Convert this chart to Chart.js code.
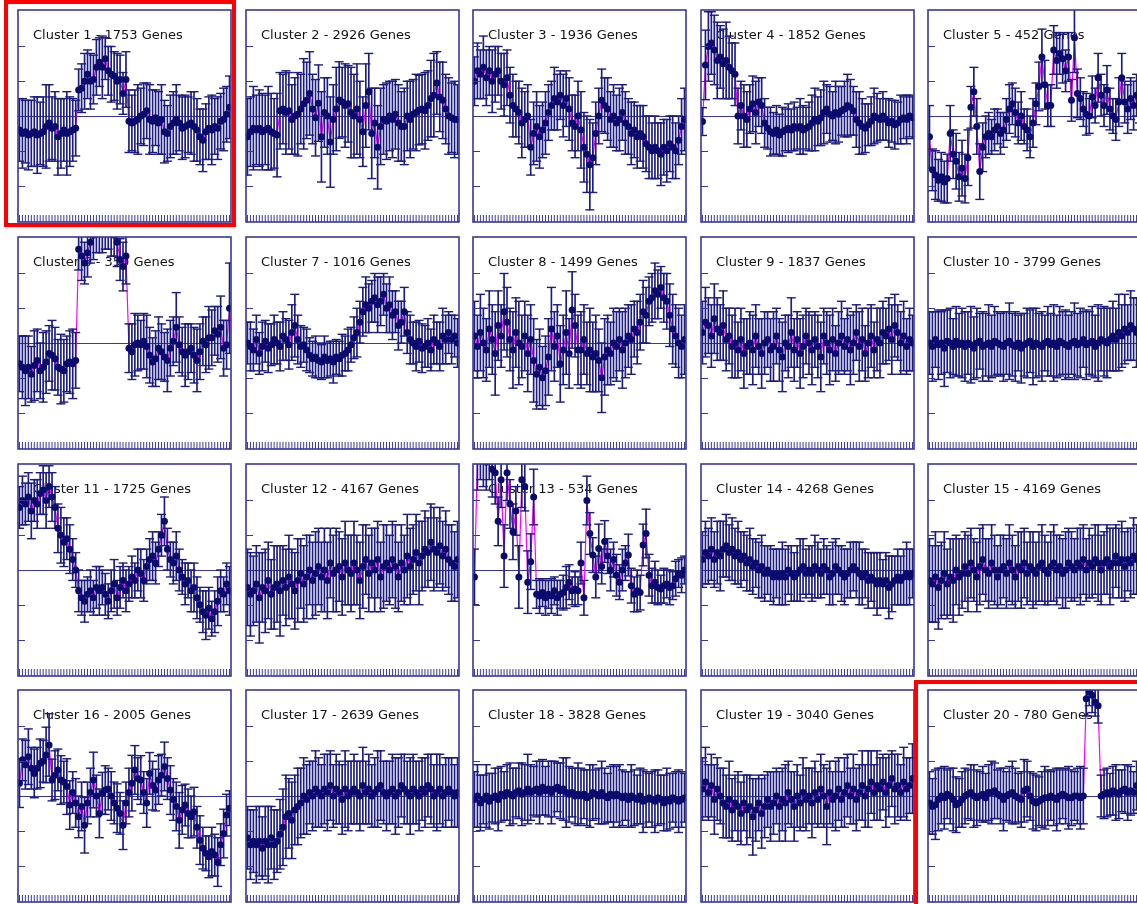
<!DOCTYPE html>
<html>
<head>
<meta charset="utf-8">
<script src="https://cdn.jsdelivr.net/npm/chart.js@4.4.1/dist/chart.umd.min.js"></script>
<style>
html,body{margin:0;padding:0;background:#fff;}
body{width:1137px;height:904px;overflow:hidden;position:relative;}
canvas.panel{position:absolute;}
.hl{position:absolute;border:4px solid #ff0000;box-sizing:border-box;z-index:5;pointer-events:none;}
</style>
</head>
<body>
<div class="hl" style="left:4px;top:0px;width:232px;height:227px;"></div>
<div class="hl" style="left:914px;top:680px;width:240px;height:240px;"></div>
<script>
// ---------- DATA ----------
const timePoints = [1,2,3,4,5,6,7,8,9,10,11,12,13,14,15,16,17,18,19,20,21,22,23,24,
  25,26,27,28,29,30,31,32,33,34,35,36,37,38,39,40,41,42,43,44,45,46,47,48,
  49,50,51,52,53,54,55,56,57,58,59,60,61,62,63,64,65,66,67,68,69,70,71,72];
const yTickValues = [-2,-1,1,2];
const titles = ["Cluster 1 - 1753 Genes","Cluster 2 - 2926 Genes","Cluster 3 - 1936 Genes","Cluster 4 - 1852 Genes","Cluster 5 - 452 Genes",
  "Cluster 6 - 350 Genes","Cluster 7 - 1016 Genes","Cluster 8 - 1499 Genes","Cluster 9 - 1837 Genes","Cluster 10 - 3799 Genes",
  "Cluster 11 - 1725 Genes","Cluster 12 - 4167 Genes","Cluster 13 - 534 Genes","Cluster 14 - 4268 Genes","Cluster 15 - 4169 Genes",
  "Cluster 16 - 2005 Genes","Cluster 17 - 2639 Genes","Cluster 18 - 3828 Genes","Cluster 19 - 3040 Genes","Cluster 20 - 780 Genes"];

const c1Mean = [-0.4,-0.5,-0.45,-0.55,-0.5,-0.45,-0.55,-0.5,-0.45,-0.3,-0.2,-0.35,
  -0.3,-0.6,-0.5,-0.4,-0.5,-0.45,-0.4,-0.35,0.75,0.8,1.0,1.2,
  1.0,1.05,1.4,1.55,1.4,1.65,1.3,1.2,1.15,1.0,1.05,0.65,
  1.05,-0.15,-0.2,-0.15,-0.1,0.0,0.05,0.15,-0.1,-0.15,-0.05,-0.2,
  -0.1,-0.45,-0.5,-0.3,-0.2,-0.1,-0.2,-0.35,-0.3,-0.25,-0.2,-0.3,
  -0.4,-0.6,-0.7,-0.45,-0.35,-0.4,-0.3,-0.35,-0.15,-0.1,0.05,0.25];
const c1Err = [0.9,1.0,0.9,1.0,0.95,1.0,1.1,0.9,1.0,1.2,1.1,0.9,
  1.0,1.1,1.0,0.9,1.2,1.0,0.9,0.8,0.6,0.7,0.8,0.7,
  0.8,0.7,0.8,0.7,0.9,0.6,0.7,0.8,0.7,0.8,0.7,0.6,
  0.8,0.9,0.8,0.9,1.0,0.8,0.9,0.8,1.0,0.9,0.8,0.9,
  1.0,0.9,0.8,0.9,0.9,1.0,0.8,0.9,0.9,0.8,0.9,1.0,
  0.9,0.8,0.9,0.8,0.9,1.0,0.8,0.9,0.8,0.9,0.8,0.9];

const c2Mean = [-0.6,-0.45,-0.35,-0.4,-0.35,-0.45,-0.4,-0.35,-0.45,-0.5,-0.55,0.15,
  0.2,0.1,0.15,-0.1,0.0,0.05,0.2,0.35,0.45,0.65,0.2,-0.05,
  0.37,-0.6,0.1,0.0,-0.75,-0.1,0.2,0.46,0.4,0.3,0.35,0.1,
  0.0,0.2,-0.1,-0.45,0.3,0.7,-0.5,-0.2,-0.9,-0.3,-0.1,-0.15,
  0.0,-0.1,0.05,-0.2,-0.3,-0.3,0.0,-0.1,0.05,0.1,0.17,0.2,
  0.15,0.3,0.5,0.6,0.95,0.55,0.45,0.2,0.0,-0.05,-0.1,-0.1];
const c2Err = [1.1,1.0,1.2,1.0,1.1,1.1,1.0,1.2,1.1,1.0,1.2,1.1,
  1.0,1.2,1.1,1.0,1.1,1.2,1.0,1.3,1.1,1.2,1.0,1.1,
  1.1,1.3,1.0,1.1,1.3,1.0,1.2,1.1,1.0,1.2,1.1,1.3,
  1.2,1.3,1.1,1.0,1.2,1.1,1.3,1.0,1.2,1.1,1.0,1.1,
  1.0,1.1,1.0,1.1,1.0,1.1,1.0,1.1,1.0,1.1,1.0,1.0,
  1.1,1.0,1.1,1.2,0.9,1.0,1.1,1.0,1.1,1.0,1.1,1.0];

const c3Mean = [1.0,1.3,1.2,1.4,1.1,1.3,1.0,1.2,1.3,1.0,0.9,1.1,
  0.6,0.3,0.2,0.1,-0.2,-0.1,0.0,-0.9,-0.5,-0.3,-0.6,-0.4,
  -0.2,0.1,0.3,0.5,0.4,0.6,0.3,0.5,0.2,-0.2,-0.3,0.0,
  -0.4,-0.9,-1.1,-1.4,-1.2,-0.5,0.0,0.45,0.3,0.2,-0.1,0.0,
  -0.2,-0.1,0.1,-0.2,-0.3,-0.5,-0.4,-0.6,-0.5,-0.6,-0.8,-0.9,
  -1.0,-0.9,-1.0,-1.1,-0.9,-1.0,-0.8,-0.9,-1.0,-0.7,-0.3,-0.1];
const c3Err = [0.7,0.8,0.7,0.9,0.8,0.7,0.9,0.8,0.7,0.8,0.9,0.8,
  0.8,0.9,0.8,0.9,1.0,0.8,0.9,0.8,0.9,1.0,0.9,0.8,
  0.9,0.8,0.7,0.9,0.8,0.7,0.9,0.8,0.9,0.8,0.9,1.0,
  1.1,1.0,1.1,1.3,1.0,0.9,0.8,0.9,0.8,0.9,0.8,0.9,
  0.8,0.9,0.8,0.9,0.8,0.9,0.8,0.9,0.8,0.9,0.8,0.9,
  0.8,0.9,0.8,0.9,0.8,0.9,0.8,0.9,0.8,0.7,0.8,0.9];

const c4Mean = [-0.16,1.47,2.0,2.1,1.9,1.6,1.7,1.5,1.6,1.4,1.3,1.2,
  0.0,0.3,0.0,-0.1,0.2,0.35,0.1,0.4,0.3,-0.2,-0.35,-0.45,
  -0.5,-0.4,-0.55,-0.45,-0.4,-0.35,-0.4,-0.3,-0.35,-0.3,-0.4,-0.35,
  -0.3,-0.2,-0.1,-0.15,-0.05,0.1,0.2,0.05,0.0,0.1,0.05,0.15,
  0.2,0.3,0.25,0.15,-0.1,-0.2,-0.3,-0.35,-0.25,-0.15,0.0,-0.05,
  -0.1,0.0,-0.1,-0.2,-0.15,-0.25,-0.2,-0.1,-0.05,-0.1,0.0,-0.05];
const c4Err = [0.4,1.0,1.0,0.9,1.0,1.1,0.9,1.0,1.1,0.9,0.8,0.9,
  0.8,0.7,0.9,0.8,0.7,0.8,0.9,0.7,0.8,0.7,0.6,0.7,
  0.6,0.7,0.6,0.7,0.6,0.7,0.6,0.7,0.6,0.8,0.7,0.6,
  0.7,0.8,0.9,0.7,0.8,0.9,0.7,0.8,0.7,0.9,0.8,0.7,
  0.8,0.9,0.8,0.7,0.8,0.9,0.8,0.7,0.6,0.7,0.8,0.7,
  0.6,0.7,0.6,0.7,0.6,0.7,0.6,0.7,0.6,0.7,0.6,0.6];

const c5Mean = [-0.6,-1.55,-1.7,-1.85,-1.75,-1.9,-1.8,-0.5,-1.1,-1.3,-1.75,-1.5,
  -1.8,-1.2,0.25,0.7,-0.3,-1.6,-0.9,-0.6,-0.5,-0.6,-0.4,-0.3,
  -0.5,-0.4,-0.1,0.2,0.35,0.1,-0.2,0.0,-0.3,-0.4,-0.6,-0.2,
  0.35,0.85,1.7,0.9,0.3,0.3,1.9,1.6,1.8,1.65,1.3,1.7,
  0.45,2.25,0.65,0.5,0.2,0.05,0.0,0.55,0.3,1.1,0.6,0.3,
  0.75,0.2,0.0,-0.1,0.4,1.1,0.4,0.2,0.5,0.3,0.6,0.4];
const c5Err = [0.9,0.6,0.7,0.6,0.7,0.6,0.7,0.8,0.7,0.8,0.7,0.8,
  0.7,0.8,0.6,0.7,0.8,0.8,0.7,0.6,0.6,0.5,0.6,0.5,
  0.6,0.5,0.6,0.7,0.6,0.7,0.6,0.7,0.5,0.6,0.6,0.7,
  0.6,0.7,0.8,0.7,0.6,0.6,0.7,0.8,0.6,0.7,0.6,0.7,
  0.6,1.0,0.7,0.6,0.5,0.6,0.5,0.6,0.5,0.7,0.6,0.6,
  0.7,0.6,0.5,0.6,0.7,0.7,0.6,0.7,0.6,0.7,0.6,0.6];

const c6Mean = [-0.6,-0.7,-0.8,-0.7,-0.9,-0.65,-0.5,-0.8,-0.7,-0.55,-0.3,-0.35,
  -0.45,-0.7,-0.75,-0.8,-0.6,-0.55,-0.6,-0.5,2.7,2.5,2.3,2.6,
  2.9,3.1,3.2,3.3,3.2,3.4,3.3,3.2,3.1,2.9,2.4,2.2,
  2.5,-0.15,-0.25,-0.05,0.0,-0.05,0.05,-0.1,-0.35,-0.55,-0.45,-0.15,
  -0.25,-0.4,-0.5,-0.15,0.05,0.45,-0.05,-0.25,-0.35,-0.25,-0.15,-0.35,
  -0.5,-0.25,0.05,-0.05,0.15,0.15,0.35,0.25,0.45,-0.15,-0.05,1.0];
const c6Err = [0.8,0.9,1.0,0.9,0.8,1.0,0.9,0.8,1.0,0.9,0.8,1.0,
  0.9,0.8,1.0,0.9,0.8,0.9,1.0,0.8,0.6,0.7,0.6,0.7,
  0.6,0.7,0.6,0.7,0.6,0.7,0.6,0.7,0.6,0.7,0.6,0.7,
  0.8,0.7,0.8,0.9,0.8,0.7,0.8,0.9,0.8,0.7,0.8,0.9,
  0.8,0.7,0.9,0.8,0.7,1.0,0.8,0.7,0.9,0.8,0.7,0.8,
  0.9,0.8,0.7,0.8,0.9,0.8,0.7,0.8,0.9,0.8,0.7,1.3];

const c7Mean = [0.0,-0.1,-0.2,0.1,-0.3,-0.1,0.05,-0.15,-0.05,0.1,0.0,-0.1,
  0.2,0.1,-0.05,0.3,0.5,0.1,-0.1,-0.05,-0.2,-0.35,-0.45,-0.4,
  -0.5,-0.55,-0.4,-0.5,-0.45,-0.55,-0.4,-0.45,-0.35,-0.3,-0.2,-0.05,
  0.15,0.3,0.6,0.9,1.1,1.0,1.2,1.3,1.1,1.2,1.4,1.0,
  1.1,0.8,0.9,0.5,0.6,0.9,0.3,0.1,0.0,-0.1,0.05,-0.15,
  -0.1,0.0,-0.2,0.1,0.0,-0.1,0.2,0.1,0.3,0.1,0.2,0.0];
const c7Err = [0.6,0.7,0.6,0.7,0.6,0.7,0.6,0.7,0.6,0.7,0.6,0.7,
  0.7,0.6,0.7,0.8,0.9,0.7,0.6,0.5,0.6,0.5,0.5,0.6,
  0.5,0.5,0.6,0.5,0.5,0.6,0.5,0.5,0.6,0.5,0.6,0.5,
  0.6,0.7,0.6,0.7,0.8,0.7,0.6,0.7,0.8,0.7,0.6,0.7,
  0.8,0.7,0.6,0.7,0.6,0.7,0.6,0.7,0.6,0.7,0.6,0.7,
  0.6,0.7,0.6,0.7,0.6,0.7,0.8,0.7,0.6,0.7,0.6,0.7];

const c8Mean = [0.2,-0.1,0.3,0.0,-0.2,0.4,0.1,-0.3,0.5,0.2,0.9,0.6,
  0.1,-0.2,0.3,0.0,-0.1,0.2,-0.3,0.1,-0.5,-0.9,-0.7,-1.0,
  -0.8,-0.4,0.4,-0.1,0.2,-0.6,-0.2,0.3,-0.3,0.95,0.5,-0.2,
  -0.2,0.1,-0.3,-0.2,-0.4,-0.3,-0.5,-1.0,-0.4,-0.2,-0.3,0.0,
  -0.1,0.1,-0.2,0.0,0.2,0.1,0.4,0.3,0.6,0.9,0.8,1.2,
  1.3,1.5,1.4,1.6,1.3,1.2,0.8,0.4,0.2,0.0,-0.1,0.1];
const c8Err = [1.0,0.9,1.1,1.0,0.9,1.1,1.0,1.2,1.0,0.9,1.1,1.0,
  0.9,1.1,1.0,1.2,0.9,1.0,1.1,1.0,1.2,1.0,1.1,0.9,
  1.0,1.1,1.2,1.0,0.9,1.1,1.0,1.2,1.0,1.1,0.9,1.0,
  1.1,1.0,0.9,1.2,1.0,1.1,0.9,1.0,1.1,1.0,0.9,1.0,
  1.0,0.9,1.1,1.0,0.9,1.0,0.8,0.9,0.8,0.9,0.8,0.7,
  0.7,0.8,0.7,0.6,0.7,0.8,0.9,1.0,0.9,1.0,0.9,1.0];

const c9Mean = [0.3,0.6,0.5,0.2,0.7,0.4,0.3,0.5,0.1,0.2,-0.1,0.0,
  -0.2,0.1,-0.3,-0.1,0.0,-0.2,0.2,-0.1,-0.3,0.0,0.1,-0.2,
  -0.1,0.2,-0.2,-0.4,0.0,-0.1,0.3,-0.2,0.1,-0.3,-0.1,0.2,
  0.0,-0.2,0.1,-0.1,-0.4,0.2,0.0,-0.2,0.1,-0.3,0.0,0.2,
  -0.1,0.1,-0.2,0.0,0.3,-0.1,0.1,-0.3,0.0,0.2,-0.2,0.1,
  0.0,0.3,0.2,0.4,0.1,0.5,0.3,0.0,0.2,-0.1,0.1,0.0];
const c9Err = [0.9,1.0,0.8,0.9,1.0,0.9,0.8,1.0,0.9,0.8,0.9,1.0,
  0.8,0.9,1.0,0.8,0.9,1.0,0.9,0.8,1.0,0.9,0.8,0.9,
  1.0,0.8,0.9,1.0,0.8,0.9,1.0,0.9,0.8,1.0,0.9,0.8,
  0.9,1.0,0.8,0.9,1.0,0.8,0.9,1.0,0.9,0.8,0.9,1.0,
  0.8,0.9,1.0,0.9,0.8,1.0,0.9,0.8,1.0,0.9,0.8,0.9,
  1.0,0.9,0.8,0.9,1.0,0.9,0.8,0.9,1.0,0.8,0.9,0.8];

const c10Mean = [0.0,-0.1,0.1,-0.05,0.0,-0.15,0.05,0.0,-0.1,0.05,-0.05,0.0,
  -0.1,0.0,-0.05,-0.15,0.0,0.05,-0.1,-0.05,0.0,-0.1,0.05,0.0,
  -0.05,-0.1,0.0,0.05,-0.05,-0.1,0.0,-0.15,-0.05,0.0,0.05,-0.1,
  0.0,-0.05,-0.1,0.0,0.05,-0.05,0.0,-0.1,0.05,0.0,-0.05,-0.1,
  0.0,0.05,-0.05,0.0,0.1,-0.05,0.0,0.05,-0.1,0.0,0.1,0.05,
  0.0,0.1,0.2,0.1,0.3,0.2,0.4,0.3,0.5,0.4,0.3,0.2];
const c10Err = [0.9,1.0,0.8,1.0,0.9,1.1,0.9,1.0,0.8,1.0,0.9,1.0,
  1.0,0.9,1.1,0.9,1.0,0.8,1.0,0.9,1.1,0.9,1.0,0.9,
  0.9,1.0,0.9,1.1,0.9,1.0,0.8,1.0,0.9,1.0,0.9,1.1,
  1.0,0.9,1.0,0.8,1.0,0.9,1.1,0.9,1.0,0.9,1.0,0.9,
  0.9,1.1,0.9,1.0,0.8,1.0,0.9,1.0,0.9,1.1,0.9,1.0,
  1.0,0.9,1.0,0.9,1.1,0.9,1.0,0.8,1.0,0.9,1.0,0.9];

const c11Mean = [1.8,2.0,1.9,2.1,1.7,2.0,1.9,2.2,2.3,2.0,2.4,2.1,
  1.8,1.2,1.0,0.8,0.9,0.6,0.3,0.0,-0.6,-0.8,-0.9,-0.7,
  -0.6,-0.8,-0.5,-0.6,-0.5,-0.7,-0.9,-0.6,-0.4,-0.8,-0.5,-0.3,
  -0.6,-0.4,-0.2,-0.3,0.0,-0.1,-0.3,0.1,0.3,0.4,0.2,0.6,
  1.0,1.4,0.6,0.3,0.2,0.4,0.0,-0.2,-0.4,-0.3,-0.6,-0.5,
  -0.8,-1.0,-1.2,-1.3,-1.1,-1.4,-1.2,-0.9,-0.6,-0.7,-0.4,-0.6];
const c11Err = [0.6,0.7,0.6,0.7,0.8,0.6,0.7,0.6,0.7,0.8,0.6,0.7,
  0.6,0.7,0.8,0.7,0.6,0.7,0.6,0.5,0.6,0.5,0.6,0.5,
  0.6,0.5,0.6,0.7,0.5,0.6,0.5,0.6,0.7,0.5,0.6,0.5,
  0.6,0.5,0.6,0.5,0.6,0.7,0.6,0.5,0.6,0.7,0.6,0.5,
  0.6,0.7,0.6,0.5,0.6,0.7,0.6,0.5,0.6,0.5,0.6,0.7,
  0.6,0.5,0.6,0.7,0.6,0.5,0.6,0.7,0.6,0.5,0.6,0.7];

const c12Mean = [-0.5,-0.7,-0.6,-0.4,-0.8,-0.5,-0.6,-0.3,-0.7,-0.5,-0.4,-0.6,
  -0.3,-0.5,-0.2,-0.4,-0.6,-0.3,-0.1,-0.4,-0.2,0.0,-0.3,-0.1,
  0.1,-0.2,0.0,-0.3,0.2,-0.1,0.0,0.1,-0.2,0.2,0.0,-0.1,
  0.2,0.0,-0.3,0.1,0.3,-0.1,0.2,0.0,0.3,-0.2,0.1,0.2,
  0.0,0.3,0.1,-0.2,0.2,0.0,0.4,0.1,0.3,0.5,0.2,0.4,
  0.6,0.5,0.8,0.6,0.5,0.7,0.4,0.6,0.3,0.2,0.1,0.3];
const c12Err = [1.1,1.2,1.0,1.1,1.3,1.0,1.2,1.1,1.0,1.2,1.1,1.3,
  1.0,1.1,1.2,1.0,1.1,1.2,1.0,1.1,1.2,1.0,1.1,1.2,
  1.1,1.0,1.2,1.1,1.0,1.1,1.2,1.0,1.1,1.2,1.0,1.1,
  1.2,1.0,1.1,1.2,1.0,1.1,1.0,1.2,1.1,1.0,1.2,1.1,
  1.0,1.1,1.2,1.0,1.1,1.0,1.2,1.1,1.0,1.1,1.2,1.0,
  1.1,1.0,1.1,1.2,1.0,1.1,1.0,1.1,1.0,1.1,1.0,1.1];

const c13Mean = [-0.2,3.2,3.4,3.3,3.1,3.3,2.9,2.8,1.4,2.6,0.4,2.8,
  1.9,1.1,1.7,-0.2,2.6,2.4,-0.35,0.24,2.1,-0.7,-0.75,-0.65,
  -0.8,-0.7,-0.75,-0.6,-0.8,-0.7,-0.65,-0.5,-0.35,-0.6,-0.55,-0.6,
  0.2,-0.8,2.0,1.05,0.43,-0.2,0.62,0.1,0.82,0.4,0.0,0.3,
  -0.15,-0.35,0.0,0.2,0.43,-0.45,-0.7,-0.6,-0.65,0.72,1.05,-0.15,
  -0.45,-0.35,-0.5,-0.55,-0.45,-0.4,-0.5,-0.45,-0.25,-0.1,-0.15,0.0];
const c13Err = [0.8,0.9,0.8,0.9,0.8,0.7,0.8,0.9,0.7,0.8,0.9,0.8,
  0.7,0.8,0.7,0.9,0.8,0.7,0.9,0.8,0.8,0.4,0.5,0.4,
  0.5,0.4,0.5,0.4,0.5,0.4,0.5,0.6,0.5,0.4,0.5,0.4,
  0.6,0.5,0.7,0.6,0.5,0.6,0.7,0.5,0.6,0.5,0.6,0.5,
  0.6,0.5,0.6,0.5,0.6,0.5,0.5,0.6,0.5,0.6,0.7,0.6,
  0.5,0.6,0.5,0.4,0.5,0.4,0.5,0.4,0.5,0.4,0.5,0.4];

const c14Mean = [0.3,0.5,0.4,0.6,0.3,0.5,0.4,0.6,0.7,0.5,0.6,0.4,
  0.5,0.3,0.4,0.2,0.3,0.1,0.2,0.0,0.1,-0.1,0.0,-0.1,
  -0.2,-0.1,-0.2,-0.1,-0.2,0.0,-0.1,-0.2,-0.1,0.0,0.1,-0.1,
  0.0,-0.1,0.1,0.0,-0.1,0.1,0.0,-0.2,-0.1,0.1,0.0,-0.1,
  -0.2,-0.1,0.0,0.1,0.0,-0.1,-0.2,-0.1,-0.3,-0.2,-0.3,-0.4,
  -0.3,-0.4,-0.3,-0.5,-0.4,-0.3,-0.2,-0.3,-0.2,-0.1,-0.2,-0.1];
const c14Err = [0.8,0.9,0.8,0.9,0.8,0.9,1.0,0.8,0.9,0.8,0.9,0.8,
  0.9,0.8,0.7,0.8,0.9,0.8,0.7,0.8,0.9,0.8,0.7,0.8,
  0.8,0.7,0.8,0.9,0.8,0.7,0.8,0.7,0.8,0.9,0.8,0.7,
  0.7,0.8,0.9,0.8,0.7,0.8,0.7,0.8,0.9,0.8,0.7,0.8,
  0.8,0.7,0.8,0.7,0.8,0.9,0.8,0.7,0.8,0.7,0.8,0.9,
  0.8,0.7,0.8,0.9,0.8,0.7,0.8,0.7,0.8,0.9,0.8,0.7];

const c15Mean = [-0.3,-0.4,-0.2,-0.5,-0.3,-0.1,-0.4,-0.2,-0.3,0.0,-0.2,-0.1,
  0.1,-0.1,0.2,0.0,-0.2,0.1,0.3,0.0,-0.1,0.2,0.0,-0.2,
  0.0,0.1,-0.1,0.2,0.0,-0.2,0.1,0.0,0.2,-0.1,0.1,0.0,
  -0.1,0.1,0.2,0.0,-0.1,0.1,0.2,0.0,0.1,-0.1,0.0,0.2,
  0.1,0.0,0.2,0.1,0.3,0.0,0.2,0.1,0.3,0.2,0.0,0.2,
  0.3,0.1,0.2,0.4,0.2,0.3,0.1,0.3,0.2,0.4,0.3,0.2];
const c15Err = [1.2,1.1,1.3,1.2,1.1,1.2,1.0,1.1,1.2,1.0,1.1,1.0,
  1.0,1.1,1.0,0.9,1.0,1.1,1.0,0.9,1.0,1.1,1.0,0.9,
  1.0,0.9,1.0,1.1,1.0,0.9,1.0,1.1,1.0,0.9,1.0,1.1,
  0.9,1.0,1.1,1.0,0.9,1.0,1.1,1.0,0.9,1.0,1.1,1.0,
  1.0,0.9,1.0,1.1,1.0,0.9,1.0,0.9,1.0,1.1,1.0,0.9,
  1.0,1.1,1.0,0.9,1.0,1.1,1.0,0.9,1.0,1.1,1.0,0.9];

const c16Mean = [0.37,1.04,0.9,1.13,0.8,0.65,0.8,0.94,1.0,1.18,1.47,0.46,
  0.6,0.75,0.46,0.4,0.27,-0.26,0.1,-0.2,-0.6,-0.3,-0.84,-0.2,
  0.1,0.46,0.0,-0.5,0.08,0.17,0.2,0.0,-0.2,-0.35,-0.5,-0.84,
  -0.2,0.1,0.37,0.75,0.5,0.46,0.1,-0.2,0.65,0.3,0.17,0.46,
  0.6,0.85,0.5,0.17,-0.1,-0.3,-0.7,-0.4,-0.26,-0.5,-0.6,-0.45,
  -0.9,-1.27,-1.5,-1.65,-1.75,-1.6,-1.7,-1.9,-1.4,-1.08,-0.55,-0.35];
const c16Err = [0.7,0.6,0.7,0.8,0.6,0.7,0.6,0.7,0.6,0.8,0.9,0.6,
  0.7,0.6,0.7,0.6,0.8,0.7,0.6,0.7,0.6,0.7,0.8,0.6,
  0.7,0.8,0.6,0.7,0.6,0.7,0.6,0.7,0.6,0.7,0.6,0.7,
  0.6,0.7,0.8,0.7,0.6,0.7,0.6,0.7,0.6,0.7,0.6,0.7,
  0.6,0.7,0.6,0.7,0.6,0.7,0.8,0.7,0.6,0.7,0.6,0.7,
  0.6,0.7,0.6,0.5,0.6,0.7,0.6,0.7,0.6,0.7,0.6,0.5];

const c17Mean = [-1.2,-1.4,-1.3,-1.4,-1.3,-1.5,-1.3,-1.4,-1.2,-1.4,-1.3,-1.1,
  -0.9,-0.6,-0.5,-0.7,-0.4,-0.3,-0.2,0.0,-0.1,0.1,0.0,0.2,
  0.1,0.0,0.2,0.1,0.3,0.0,0.2,0.1,-0.1,0.2,0.0,0.1,
  0.2,0.1,0.0,0.3,0.1,0.2,0.0,0.1,0.2,0.3,0.1,0.0,
  0.1,0.2,0.0,0.1,0.3,0.2,0.1,0.0,0.2,0.1,0.0,0.2,
  0.1,0.3,0.2,0.0,0.1,0.2,0.0,0.1,0.2,0.1,0.0,0.1];
const c17Err = [0.9,1.0,0.9,1.1,1.0,0.9,1.0,1.1,0.9,1.0,0.9,1.0,
  1.1,1.2,1.0,1.1,1.0,1.1,1.0,1.1,1.0,0.9,1.0,1.1,
  1.0,0.9,1.0,1.1,1.0,0.9,1.0,0.9,1.0,1.1,1.0,0.9,
  1.0,0.9,1.0,1.1,0.9,1.0,0.9,1.0,1.1,1.0,0.9,1.0,
  0.9,1.0,1.1,1.0,0.9,1.0,0.9,1.1,1.0,0.9,1.0,0.9,
  1.0,0.9,1.0,0.9,1.1,1.0,0.9,1.0,0.9,1.0,0.9,1.0];

const c18Mean = [-0.1,0.0,-0.2,-0.1,0.0,-0.15,-0.05,0.0,-0.1,0.05,0.0,0.1,
  0.05,0.0,0.1,0.15,0.05,0.1,0.2,0.1,0.15,0.2,0.1,0.25,
  0.15,0.2,0.1,0.2,0.25,0.15,0.2,0.1,0.05,0.1,0.0,0.05,
  0.0,0.05,-0.05,0.0,0.1,0.05,0.0,0.1,0.0,-0.05,0.05,0.0,
  0.05,0.0,-0.05,0.0,-0.1,0.0,-0.05,-0.1,0.0,-0.15,-0.1,-0.05,
  -0.1,-0.15,-0.05,-0.1,-0.2,-0.1,-0.15,-0.05,-0.1,-0.15,-0.1,-0.05];
const c18Err = [0.8,0.9,0.8,0.7,0.9,0.8,0.7,0.8,0.9,0.8,0.7,0.8,
  0.9,0.8,0.7,0.8,0.9,0.8,1.0,0.8,0.7,0.8,0.9,0.8,
  0.7,0.8,0.9,0.8,0.7,0.8,0.9,1.0,0.8,0.7,0.8,0.9,
  0.8,0.7,0.8,0.9,0.8,0.7,0.8,0.9,0.8,0.7,0.8,0.9,
  0.8,0.9,0.8,0.7,0.8,0.9,0.8,0.7,0.8,0.9,0.8,0.7,
  0.8,0.9,0.8,0.7,0.8,0.9,0.8,0.7,0.8,0.9,0.8,0.7];

const c19Mean = [0.2,0.4,0.1,0.3,-0.1,0.2,0.0,-0.2,-0.3,-0.1,-0.4,-0.2,
  -0.3,-0.5,-0.2,-0.4,-0.3,-0.6,-0.4,-0.2,-0.5,-0.3,-0.1,-0.3,
  -0.2,0.0,-0.3,-0.1,-0.2,0.1,-0.1,-0.3,0.0,-0.2,0.1,-0.1,
  0.0,-0.2,0.1,-0.1,0.2,0.0,-0.3,0.1,-0.1,0.0,0.2,-0.1,
  0.1,0.3,0.0,0.2,-0.1,0.1,0.3,0.0,0.2,0.4,0.1,0.3,
  0.2,0.4,0.1,0.3,0.5,0.2,0.3,0.1,0.4,0.2,0.3,0.5];
const c19Err = [0.9,1.0,0.8,0.9,1.0,0.9,0.8,1.0,0.9,1.1,0.9,0.8,
  1.0,0.9,0.8,1.0,0.9,1.1,0.9,0.8,1.0,0.9,0.8,1.0,
  0.9,0.8,1.0,0.9,1.1,0.9,0.8,1.0,0.9,0.8,1.0,0.9,
  0.8,1.0,0.9,0.8,1.0,0.9,1.1,0.9,0.8,1.0,0.9,0.8,
  1.0,0.9,0.8,1.0,0.9,0.8,1.0,0.9,1.1,0.9,0.8,1.0,
  0.9,0.8,1.0,0.9,0.8,1.0,0.9,0.8,1.0,0.9,0.8,1.0];

const c20Mean = [-0.2,-0.3,-0.25,-0.1,0.0,-0.05,0.05,0.0,-0.1,-0.25,-0.2,-0.1,
  0.0,0.05,0.1,0.0,-0.05,0.0,0.05,-0.05,0.1,0.1,0.15,0.05,
  0.0,-0.1,0.0,0.05,0.1,0.0,-0.05,-0.1,0.15,0.2,0.0,-0.15,
  -0.2,-0.15,-0.1,-0.05,-0.05,0.0,-0.05,-0.1,0.0,0.05,0.0,-0.05,
  -0.05,0.0,0.0,-0.05,0.0,2.8,3.0,2.9,2.7,2.6,0.0,0.05,
  0.1,0.05,0.15,0.1,0.05,0.15,0.2,0.1,0.15,0.1,0.3,0.1];
const c20Err = [0.9,0.8,1.0,0.9,0.8,0.9,0.7,0.8,0.9,0.8,0.7,0.8,
  0.8,0.7,0.8,0.9,0.8,0.7,0.8,0.7,0.8,0.9,0.8,0.7,
  0.8,0.9,0.7,0.8,0.9,0.8,0.7,0.8,0.9,0.8,0.7,0.8,
  0.8,0.7,0.8,0.9,0.8,0.7,0.8,0.9,0.8,0.7,0.8,0.9,
  0.8,0.7,0.8,0.9,0.8,0.5,0.4,0.5,0.4,0.5,0.6,0.7,
  0.7,0.6,0.7,0.8,0.7,0.6,0.7,0.8,0.7,0.6,0.7,0.6];

const means = [c1Mean,c2Mean,c3Mean,c4Mean,c5Mean,c6Mean,c7Mean,c8Mean,c9Mean,c10Mean,
  c11Mean,c12Mean,c13Mean,c14Mean,c15Mean,c16Mean,c17Mean,c18Mean,c19Mean,c20Mean];
const errs = [c1Err,c2Err,c3Err,c4Err,c5Err,c6Err,c7Err,c8Err,c9Err,c10Err,
  c11Err,c12Err,c13Err,c14Err,c15Err,c16Err,c17Err,c18Err,c19Err,c20Err];

// ---------- LAYOUT / STYLE ----------
const colLeft = [18, 245.5, 473, 700.5, 928];
const rowTop = [10, 237, 464, 690];
const PW = 213, PH = 212, PAD = 3;
const NAVY = '#0b0b6e', STEM = '#1b1b80', FRAME = '#38389a', MAGENTA = '#ff00ff';

const panelDeco = {
  id: 'panelDeco',
  beforeDatasetsDraw(chart, args, opts) {
    const {ctx, chartArea: a, scales: {y}} = chart;
    ctx.save();
    ctx.font = '13px "DejaVu Sans"';
    ctx.fillStyle = '#141414';
    ctx.textBaseline = 'alphabetic';
    ctx.fillText(opts.title, a.left + 15, a.top + 29);
    const y0 = Math.round(y.getPixelForValue(0)) + 0.5;
    ctx.strokeStyle = FRAME; ctx.lineWidth = 1;
    ctx.beginPath(); ctx.moveTo(a.left, y0); ctx.lineTo(a.right, y0); ctx.stroke();
    ctx.restore();
  },
  afterDatasetsDraw(chart) {
    const {ctx, chartArea: a, scales: {x, y}} = chart;
    ctx.save();
    ctx.strokeStyle = FRAME; ctx.lineWidth = 1;
    for (let i = 0; i < timePoints.length; i++) {
      const px = x.getPixelForValue(i);
      ctx.beginPath(); ctx.moveTo(px, a.bottom); ctx.lineTo(px, a.bottom - 7); ctx.stroke();
    }
    for (const v of yTickValues) {
      const py = Math.round(y.getPixelForValue(v)) + 0.5;
      ctx.beginPath(); ctx.moveTo(a.left, py); ctx.lineTo(a.left + 7, py); ctx.stroke();
    }
    ctx.lineWidth = 1.6;
    ctx.strokeRect(a.left, a.top, a.width, a.height);
    ctx.restore();
  }
};

for (let k = 0; k < 20; k++) {
  const col = k % 5, row = Math.floor(k / 5);
  const cv = document.createElement('canvas');
  cv.className = 'panel';
  cv.width = PW + 2 * PAD; cv.height = PH + 2 * PAD;
  cv.style.left = (colLeft[col] - PAD) + 'px';
  cv.style.top = (rowTop[row] - PAD) + 'px';
  cv.style.width = (PW + 2 * PAD) + 'px';
  cv.style.height = (PH + 2 * PAD) + 'px';
  document.body.appendChild(cv);
  const m = means[k], e = errs[k];
  new Chart(cv, {
    type: 'bar',
    data: {
      labels: timePoints,
      datasets: [
        { type: 'line', data: m, showLine: false, pointRadius: 3.5, pointBackgroundColor: NAVY,
          pointBorderWidth: 0, order: 0, clip: 0 },
        { type: 'line', data: m.map((v, i) => v + e[i]), showLine: false, pointStyle: 'line',
          pointRadius: 4.5, pointBorderColor: STEM, pointBorderWidth: 1.4, order: 1, clip: 0 },
        { type: 'line', data: m.map((v, i) => v - e[i]), showLine: false, pointStyle: 'line',
          pointRadius: 4.5, pointBorderColor: STEM, pointBorderWidth: 1.4, order: 1, clip: 0 },
        { type: 'bar', data: m.map((v, i) => [v - e[i], v + e[i]]), backgroundColor: STEM,
          borderWidth: 0, barThickness: 1, order: 2, clip: 0 },
        { type: 'line', data: m, borderColor: MAGENTA, borderWidth: 1.2, pointRadius: 0,
          tension: 0, order: 3, clip: 0 }
      ]
    },
    options: {
      responsive: false, animation: false, devicePixelRatio: 1, events: [],
      layout: { padding: PAD, autoPadding: false },
      plugins: { legend: { display: false }, tooltip: { enabled: false }, panelDeco: { title: titles[k] } },
      scales: {
        x: { type: 'category', display: false, offset: true },
        y: { display: false, min: -3.05, max: 3.05 }
      }
    },
    plugins: [panelDeco]
  });
}
</script>
</body>
</html>
